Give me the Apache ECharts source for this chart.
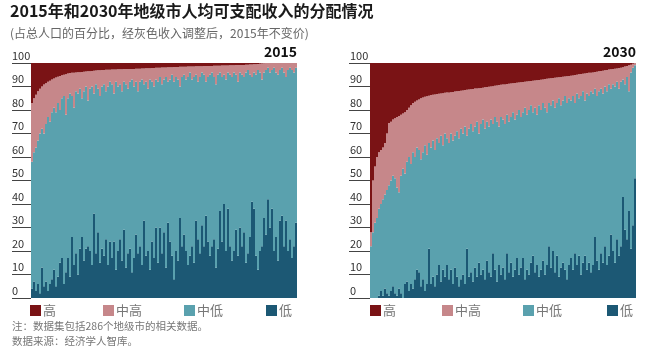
<!DOCTYPE html>
<html>
<head>
<meta charset="utf-8">
<script src="https://cdn.jsdelivr.net/npm/echarts@6/dist/echarts.min.js"></script>
<style>
html,body{margin:0;padding:0;background:#fff;}
#chart{width:654px;height:357px;}
</style>
</head>
<body>
<div id="chart"></div>
<script>
// ---- Data (each bar = a group of cities, sorted by share of 高) ----
const seriesNames = ['高', '中高', '中低', '低'];
const tickLabels = ['0','10','20','30','40','50','60','70','80','90','100'];
const panelYears = ['2015', '2030'];

// 2015: 高 share
const high2015 = [17,15,13.5,12,11,10,9.2,8.6,8,7.5,
 7,6.6,6.2,5.8,5.5,5.2,5,4.8,4.5,4.3,
 4.2,4.1,4,3.9,3.9,3.8,3.7,3.6,3.5,3.5,
 3.4,3.3,3.2,3.1,3.1,3,3,2.9,2.9,2.9,
 2.8,2.8,2.8,2.7,2.7,2.7,2.6,2.6,2.6,2.5,
 2.5,2.5,2.4,2.4,2.4,2.3,2.3,2.2,2.2,2.2,
 2.1,2.1,2,2,2,1.9,1.9,1.9,1.8,1.8,
 1.8,1.7,1.7,1.7,1.6,1.6,1.6,1.6,1.5,1.5,
 1.5,1.5,1.4,1.4,1.4,1.4,1.3,1.3,1.3,1.3,
 1.3,1.2,1.2,1.2,1.2,1.1,1.1,1.1,1.1,1,
 1,1,0.9,0.9,0.8,0.8,0.8,0.7,0.7,0.6,
 0.6,0.5,0.5,0.4,0.3,0.2,0.1,0,0,0,
 0,0,0,0,0,0,0,0,0,0,
 0,0,0];
// 2015: 中高 share
const upperMid2015 = [25,23,22.5,21,19,18,20.8,17.4,15,17.5,
 14,12.4,14.8,11.2,14.5,9.8,9,17.2,10.5,8.7,
 9.8,14.9,8,9.1,7.1,11.2,8.3,6.4,12.5,7.5,
 6.6,9.7,5.8,7.9,10.9,7,6,9.1,7.1,5.1,
 6.2,10.2,5.2,7.3,6.3,9.3,5.4,6.4,8.4,5.5,
 4.5,7.5,5.6,9.6,5.6,4.7,6.7,5.8,8.8,4.8,
 5.9,7.9,5,6,4,7.1,5.1,4.1,6.2,5.2,
 3.2,6.3,4.3,5.3,8.4,4.4,3.4,5.4,4.5,2.5,
 5.5,4.5,3.6,6.6,4.6,2.6,3.7,6.7,4.7,3.7,
 2.7,4.8,7.8,3.8,2.8,4.9,3.9,5.9,2.9,4,
 5,3,4.1,7.1,3.2,4.2,5.2,3.3,2.3,4.4,
 5.4,3.5,4.5,2.6,3.7,6.8,3.9,3,2,4,
 3,2,4,5,3,2,4,6,3,2,
 3,4,2];
// 2015: 低 share
const low2015 = [4,7,3,6,2,13,5,7,3,6,
 8,12,5,9,15,17,6,11,17,9,
 26,14,19,10,21,26,16,21,22,20,
 14,36,19,28,15,21,18,25,14,24,
 17,24,12,20,25,16,29,13,19,21,
 11,17,27,19,22,14,33,18,20,12,
 24,17,30,15,30,19,28,13,32,24,
 18,8,20,16,34,22,27,20,14,18,
 22,15,33,25,19,31,22,35,24,18,
 22,25,13,21,37,24,40,20,38,22,
 16,20,29,18,30,22,28,15,19,26,
 41,38,18,12,20,22,34,27,42,30,
 38,20,26,16,33,35,22,33,20,25,
 17,22,32];

// 2030: 高 share
const high2030 = [72,50,44,40,38,37,36,34,30,25.5,
 25,24,23.5,23,22.5,22,21.5,21,20,19,
 18,17,16.5,16,15.5,15,14.7,14.4,14.1,13.9,
 13.6,13.5,13.4,13.2,13.1,13,12.9,12.7,12.6,12.5,
 12.4,12.3,12.1,12,11.9,11.8,11.7,11.5,11.4,11.3,
 11.2,11.1,10.9,10.8,10.7,10.6,10.5,10.3,10.2,10.1,
 10,9.9,9.7,9.6,9.4,9.3,9.2,9.1,8.9,8.8,
 8.7,8.6,8.5,8.4,8.3,8.2,8.1,8,7.9,7.8,
 7.7,7.6,7.4,7.3,7.2,7.1,7,6.8,6.7,6.6,
 6.5,6.4,6.3,6.2,6.1,6,5.9,5.7,5.6,5.5,
 5.4,5.3,5.1,5,4.8,4.7,4.6,4.5,4.3,4.2,
 4.1,4,3.8,3.7,3.5,3.4,3.3,3.1,3,2.8,
 2.7,2.6,2.4,2.3,2.1,2,1.8,1.5,1.3,1,
 0.7,0.3,0];
// 2030: 中高 share
const upperMid2030 = [6,22,24,26,24,23,22,22,24,26.5,
 25,24,25.5,30,32.5,26,23.5,26,22,21,
 25,21,23.5,20,21.5,26,23.3,20.6,24.9,20.1,
 22.4,19.5,23.6,18.8,20.9,18,22.1,17.3,19.4,21.5,
 17.6,20.7,18.9,17,20.1,16.2,18.3,15.5,19.6,16.7,
 14.8,17.9,16.1,14.2,19.3,15.4,13.5,17.7,14.8,16.9,
 14,16.1,13.3,15.4,17.6,13.7,14.8,16.9,13.1,16.2,
 14.3,12.4,15.5,13.6,11.7,14.8,12.9,11,14.1,12.2,
 10.3,13.4,11.6,14.7,10.8,12.9,10,12.2,14.3,10.4,
 11.5,9.6,12.7,10.8,8.9,12,10.1,8.3,11.4,9.5,
 10.6,8.7,11.9,8,10.2,9.3,7.4,11.5,8.7,9.8,
 7.9,9,7.2,10.3,8.5,7.6,9.7,6.9,9,6.2,
 8.3,6.4,7.6,5.7,8.9,6,5.2,7.5,4.7,11,
 3.3,1.7,1];
// 2030: 低 share
const low2030 = [0,0,0,0,1,3,1,4,2,1,
 3,5,2,1,4,2,0,6,7,3,
 6,4,8,12,11,5,8,3,6,21,
 6,9,5,10,14,7,12,9,14,8,
 12,6,13,9,5,8,10,6,21,9,
 11,7,13,9,15,10,12,8,16,11,
 9,19,12,7,14,10,13,8,19,11,
 15,9,12,17,10,13,17,8,12,10,
 15,18,11,14,9,12,16,10,14,22,
 13,20,11,18,9,13,15,12,8,14,
 17,12,19,14,18,10,15,18,12,15,
 11,14,26,16,12,19,15,22,14,18,
 27,20,15,25,18,22,43,29,25,37,
 21,31,51];

const colors = {'高':'#7a1315','中高':'#c6878a','中低':'#5aa1ae','低':'#1c5874'};
const FONT = '"Noto Sans CJK SC","Noto Sans",sans-serif';

const categories = high2015.map((_, i) => String(i + 1));

function buildSeries(gi, high, upperMid, low) {
  const lowerMid = low.map((v, i) => +(100 - v - upperMid[i] - high[i]).toFixed(2));
  const vals = {'低': low, '中低': lowerMid, '中高': upperMid, '高': high};
  return ['低','中低','中高','高'].map(name => ({
    name: name,
    type: 'bar',
    xAxisIndex: gi,
    yAxisIndex: gi,
    stack: 'panel' + gi,
    barCategoryGap: '0%',
    barGap: '0%',
    itemStyle: {color: colors[name]},
    emphasis: {disabled: true},
    data: vals[name]
  }));
}

const grids = [
  {left: 31, top: 63, width: 266, height: 235},
  {left: 370, top: 63, width: 266, height: 235}
];

function yAxis(gi, margin, tickLen) {
  return {
    type: 'value', gridIndex: gi, min: 0, max: 100, interval: 10,
    axisLine: {show: false},
    splitLine: {show: false},
    axisTick: {show: true, length: tickLen, lineStyle: {color: '#444', width: 1}},
    axisLabel: {
      align: 'left', verticalAlign: 'bottom', margin: margin,
      padding: [0, 0, 2, 0],
      fontSize: 11, color: '#333', fontFamily: FONT,
      formatter: v => tickLabels[Math.round(v / 10)]
    }
  };
}

function xAxis(gi) {
  return {
    type: 'category', gridIndex: gi, data: categories,
    axisLine: {show: false}, axisTick: {show: false}, axisLabel: {show: false},
    splitLine: {show: false}
  };
}

const legendLefts = [[30, 103, 184, 266], [370, 442, 523, 607]];
const legends = [];
legendLefts.forEach(row => {
  row.forEach((x, k) => {
    legends.push({
      data: [seriesNames[k]], left: x, top: 304, padding: 0,
      icon: 'rect', itemWidth: 11, itemHeight: 11,
      selectedMode: false,
      textStyle: {fontSize: 13, color: '#777', fontFamily: FONT, padding: [0, 0, 0, -3]}
    });
  });
});

const chart = echarts.init(document.getElementById('chart'), null, {renderer: 'canvas'});
chart.setOption({
  animation: false,
  backgroundColor: '#fff',
  title: [
    {text: '2015年和2030年地级市人均可支配收入的分配情况', left: 10, top: 3, padding: 0,
     textStyle: {fontSize: 16, fontWeight: 'bold', color: '#1a1a1a', fontFamily: FONT}},
    {text: '(占总人口的百分比，经灰色收入调整后，2015年不变价)', left: 10, top: 27, padding: 0,
     textStyle: {fontSize: 12, fontWeight: 'normal', color: '#666', fontFamily: FONT}},
    {text: panelYears[0], right: 357, top: 45, padding: 0,
     textStyle: {fontSize: 14, fontWeight: 'bold', color: '#111', fontFamily: FONT}},
    {text: panelYears[1], right: 18, top: 45, padding: 0,
     textStyle: {fontSize: 14, fontWeight: 'bold', color: '#111', fontFamily: FONT}},
    {text: '注：数据集包括286个地级市的相关数据。', left: 12, top: 321, padding: 0,
     textStyle: {fontSize: 10.5, fontWeight: 'normal', color: '#777', fontFamily: FONT}},
    {text: '数据来源：经济学人智库。', left: 12, top: 336, padding: 0,
     textStyle: {fontSize: 10.5, fontWeight: 'normal', color: '#777', fontFamily: FONT}}
  ],
  legend: legends,
  grid: grids,
  xAxis: [xAxis(0), xAxis(1)],
  yAxis: [yAxis(0, 19, 19), yAxis(1, 20, 21)],
  series: [].concat(
    buildSeries(0, high2015, upperMid2015, low2015),
    buildSeries(1, high2030, upperMid2030, low2030)
  )
});
</script>
</body>
</html>
